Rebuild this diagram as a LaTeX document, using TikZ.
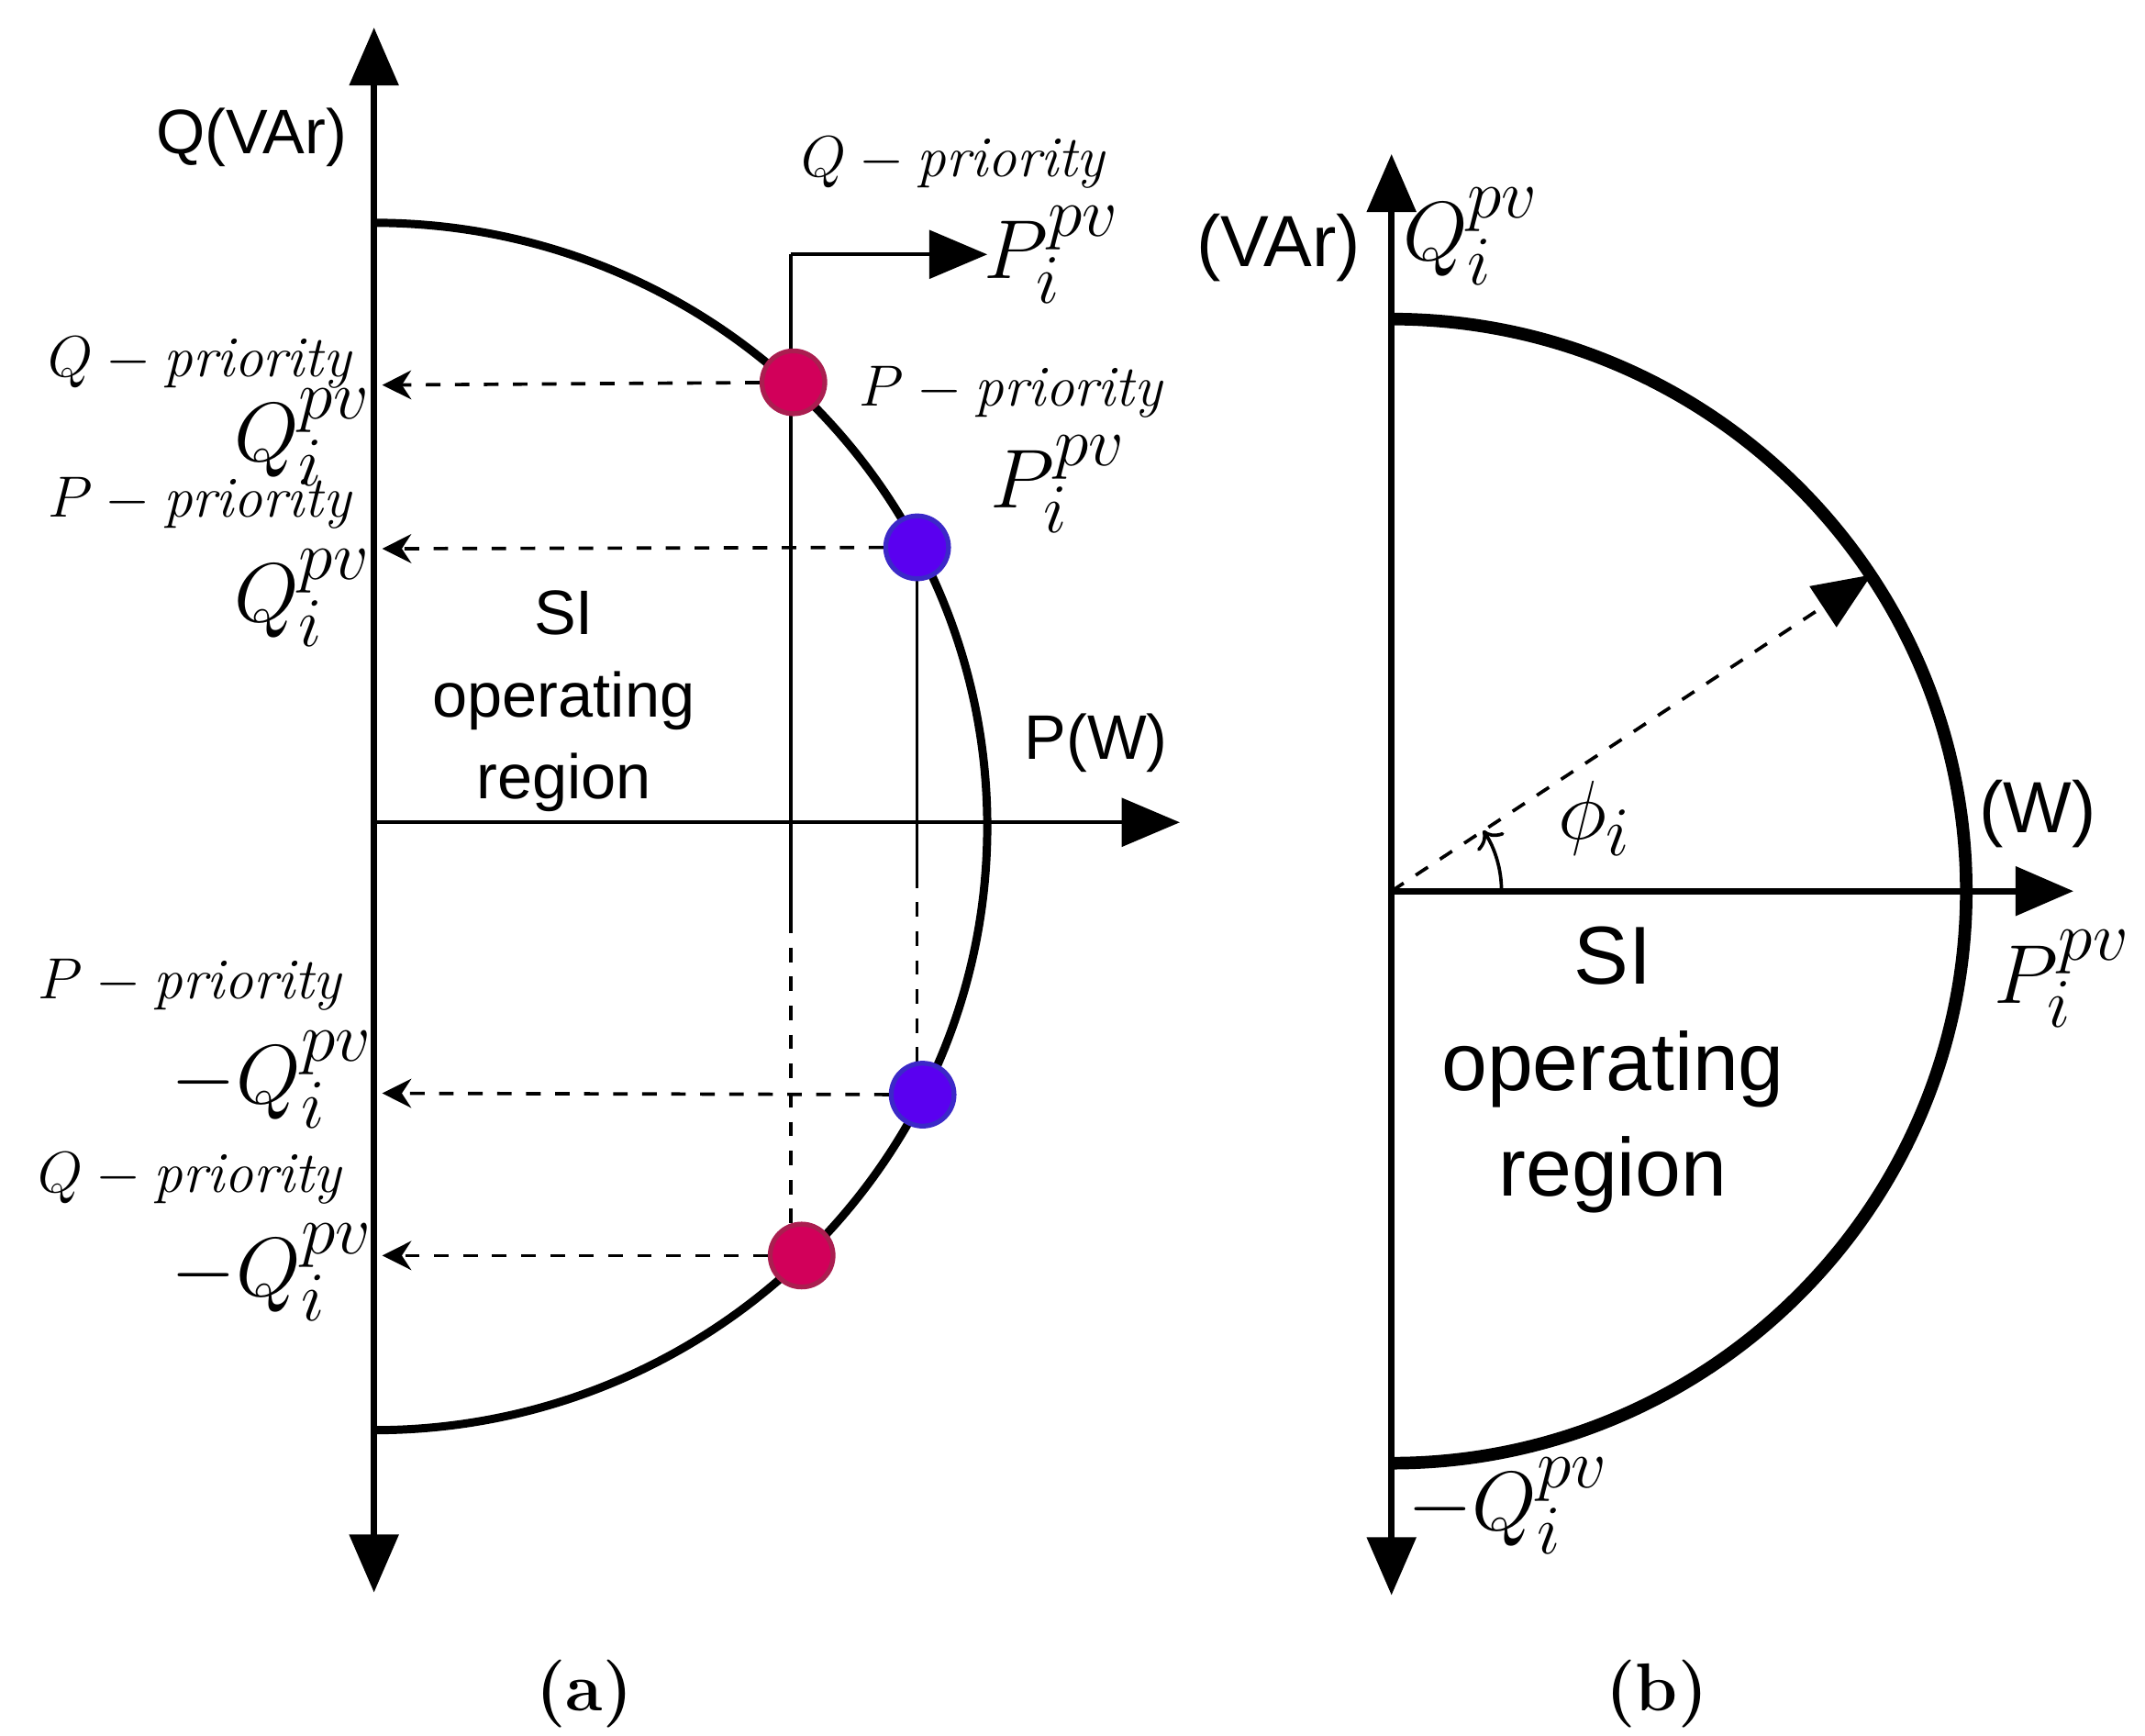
\documentclass[tikz,border=0pt]{standalone}
\usepackage{fontspec}
\newfontfamily\sff{Liberation Sans}
\usetikzlibrary{arrows.meta}
\begin{document}
\begin{tikzpicture}[x=0.01cm,y=-0.01cm,
 ax/.style={line width=1.3pt,-{Triangle[length=12pt,width=10pt]}},
 thin/.style={line width=0.7pt},
 dar/.style={line width=0.7pt,dashed,-{Stealth[length=6pt,width=6pt]}},
 ml/.style={font=\fontsize{12}{14}\selectfont},
 bl/.style={font=\fontsize{19}{22}\selectfont},
 sl/.style={font=\sff\fontsize{12.5}{15}\selectfont,align=center},
 dotr/.style={circle,inner sep=0pt,minimum size=13pt,fill={rgb,255:red,210;green,0;blue,90},draw={rgb,255:red,170;green,30;blue,80},line width=1pt},
 dotb/.style={circle,inner sep=0pt,minimum size=13pt,fill={rgb,255:red,90;green,0;blue,240},draw={rgb,255:red,60;green,40;blue,200},line width=1pt}]
\useasboundingbox (0,0) rectangle (1560,1262);
% ---------- panel (a)
\coordinate (aC) at (272,598);
\coordinate (aT) at (272,20);
\coordinate (aB) at (272,1158);
\coordinate (aR) at (858,598);
\draw[line width=1.7pt] (272,162) arc[start angle=-90,end angle=90,x radius=446,y radius=439];
\draw[ax] (aC) -- (aT);
\draw[ax] (aC) -- (aB);
\draw[thin,-{Triangle[length=12pt,width=10pt]}] (aC) -- (aR);
\coordinate (v1t) at (575,185);
\coordinate (v1m) at (575,668);
\coordinate (v1b) at (575,913);
\coordinate (v1r) at (718,185);
\draw[thin] (v1m) -- (v1t);
\draw[thin,-{Triangle[length=12pt,width=10pt]}] (v1t) -- (v1r);
\draw[thin,dashed] (v1m) -- (v1b);
\coordinate (v2m) at (667,635);
\draw[thin] (667,398) -- (v2m);
\draw[thin,dashed] (v2m) -- (667,796);
\node[dotr] (r1) at (577,278) {};
\node[dotb] (b1) at (667,398) {};
\node[dotb] (b2) at (671,796) {};
\node[dotr] (r2) at (583,913) {};
\coordinate (q1) at (278,280);
\coordinate (q2) at (278,399);
\coordinate (q3) at (278,795);
\coordinate (q4) at (278,913);
\draw[dar] (r1) -- (q1);
\draw[dar] (b1) -- (q2);
\draw[dar] (b2) -- (q3);
\draw[dar] (r2) -- (q4);
\node[sl,font=\sff\fontsize{13}{15}\selectfont] (qva) at (183,100) {Q(VAr)};
\node[sl,font=\sff\fontsize{13}{15}\selectfont] (pw) at (797,540) {P(W)};
\node[ml] (l1) at (693,118) {$Q-\mathit{priority}$};
\node[bl] (l2) at (765,185) {$P_i^{pv}$};
\node[ml] (l3) at (145,264) {$Q-\mathit{priority}$};
\node[bl] (l4) at (220,318) {$Q_i^{pv}$};
\node[ml] (l5) at (145,366) {$P-\mathit{priority}$};
\node[bl] (l6) at (220,435) {$Q_i^{pv}$};
\node[ml] (l7) at (735,285) {$P-\mathit{priority}$};
\node[bl] (l8) at (770,352) {$P_i^{pv}$};
\node[ml] (l9) at (138,716) {$P-\mathit{priority}$};
\node[bl] (l10) at (198,785) {$-Q_i^{pv}$};
\node[ml] (l11) at (138,857) {$Q-\mathit{priority}$};
\node[bl] (l12) at (198,925) {$-Q_i^{pv}$};
\node[sl,font=\sff\fontsize{13}{17}\selectfont] (si1) at (410,510) {SI\\operating\\region};
\node[font=\bfseries\fontsize{14}{16}\selectfont] (ca) at (425,1232) {(a)};
% ---------- panel (b)
\coordinate (bC) at (1012,648);
\coordinate (bT) at (1012,112);
\coordinate (bB) at (1012,1160);
\coordinate (bR) at (1508,648);
\draw[line width=2.6pt] (1012,232) arc[start angle=-90,end angle=90,x radius=418,y radius=416];
\draw[ax] (bC) -- (bT);
\draw[ax] (bC) -- (bB);
\draw[ax] (bC) -- (bR);
\coordinate (bV) at (1361,418);
\draw[thin,dashed,-{Triangle[length=12pt,width=10pt]}] (bC) -- (bV);
\draw[thin,->] (1092,648) arc[start angle=0,end angle=-33.5,radius=80];
\node[bl] (phi) at (1160,595) {$\phi_i$};
\node[sl,font=\sff\fontsize{15}{17}\selectfont] (va) at (930,180) {(VAr)};
\node[bl] (bq) at (1070,172) {$Q_i^{pv}$};
\node[sl,font=\sff\fontsize{15}{17}\selectfont] (ww) at (1482,592) {(W)};
\node[bl] (bp) at (1500,712) {$P_i^{pv}$};
\node[bl] (bmq) at (1097,1095) {$-Q_i^{pv}$};
\node[sl,font=\sff\fontsize{17}{22}\selectfont] (si2) at (1173,778) {SI\\operating\\region};
\node[font=\bfseries\fontsize{14}{16}\selectfont] (cb) at (1205,1232) {(b)};
\end{tikzpicture}
\end{document}
